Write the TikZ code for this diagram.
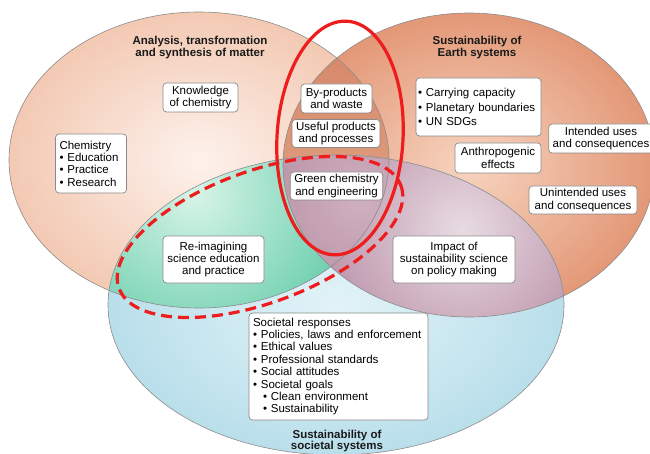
\documentclass[tikz,border=0pt]{standalone}
\usepackage{fontspec}
\setmainfont{Liberation Sans}
% region colours
\definecolor{matterIn}{HTML}{FDF2EC}
\definecolor{matterOut}{HTML}{F3C9B3}
\definecolor{earthIn}{HTML}{F7D4C0}
\definecolor{earthOut}{HTML}{E39877}
\definecolor{socIn}{HTML}{E2F3F8}
\definecolor{socOut}{HTML}{B9DFEB}
\definecolor{lensTop}{HTML}{D5896A}
\definecolor{lensBot}{HTML}{E6A98B}
\definecolor{greenIn}{HTML}{D6F4E8}
\definecolor{greenOut}{HTML}{62CBA8}
\definecolor{mauveIn}{HTML}{E8DBE2}
\definecolor{mauveOut}{HTML}{BA91A8}
\definecolor{tripleIn}{HTML}{CFB0C0}
\definecolor{tripleOut}{HTML}{BC96AA}
\definecolor{rimgray}{HTML}{8C8C8C}
\definecolor{boxgray}{HTML}{8A8A8A}
\definecolor{hilite}{HTML}{EE1C1C}
\definecolor{titleblack}{HTML}{1A1A1A}
\newcommand\nohyph{\hyphenpenalty=10000\relax}
\begin{document}
\begin{tikzpicture}[x=1pt,y=-1pt,
  box/.style={draw=boxgray, fill=white, rounded corners=3.5pt, line width=0.7pt,
    inner xsep=4pt, inner ysep=2pt, align=center,
    font=\fontsize{11.5}{12.4}\selectfont\nohyph},
  listbox/.style={box, align=left},
  heading/.style={font=\fontsize{11.5}{11.5}\selectfont\bfseries, align=center, text=titleblack},
  rim/.style={draw=rimgray, line width=0.6pt},
  redloop/.style={draw=hilite, line width=3.2pt},
]
\useasboundingbox (0,0) rectangle (650,454);

% ---- the three circles of the diagram ----
\shade[inner color=matterIn, outer color=matterOut]
  (199,160) ellipse [x radius=190, y radius=148];
\shade[inner color=earthIn, outer color=earthOut]
  (469,165) ellipse [x radius=186, y radius=152];

% matter and earth overlap
\begin{scope}
  \clip (199,160) ellipse [x radius=190, y radius=148];
  \clip (469,165) ellipse [x radius=186, y radius=152];
  \shade[top color=lensTop, bottom color=lensBot] (260,50) rectangle (410,280);
\end{scope}

\shade[inner color=socIn, outer color=socOut]
  (336,305) ellipse [x radius=228, y radius=150];

% matter and society overlap
\begin{scope}
  \clip (199,160) ellipse [x radius=190, y radius=148];
  \clip (336,305) ellipse [x radius=228, y radius=150];
  \shade[inner color=greenIn, outer color=greenOut] (195,195) circle [radius=175];
\end{scope}

% earth and society overlap
\begin{scope}
  \clip (469,165) ellipse [x radius=186, y radius=152];
  \clip (336,305) ellipse [x radius=228, y radius=150];
  \shade[inner color=mauveIn, outer color=mauveOut] (462,230) circle [radius=150];
\end{scope}

% all three overlap
\begin{scope}
  \clip (199,160) ellipse [x radius=190, y radius=148];
  \clip (469,165) ellipse [x radius=186, y radius=152];
  \clip (336,305) ellipse [x radius=228, y radius=150];
  \shade[inner color=tripleIn, outer color=tripleOut] (360,200) circle [radius=90];
\end{scope}

% outlines
\path[rim] (199,160) ellipse [x radius=190, y radius=148];
\path[rim] (469,165) ellipse [x radius=186, y radius=152];
\path[rim] (336,305) ellipse [x radius=228, y radius=150];

% ---- headings ----
\node[heading] (hMatter) at (200,47.5) {Analysis, transformation\\and synthesis of matter};
\node[heading] (hEarth) at (477,47.5) {Sustainability of\\Earth systems};
\node[heading] (hSoc) at (337,441) {Sustainability of\\societal systems};

% ---- boxes ----
\node[box, minimum width=75pt, minimum height=29pt] (know) at (200.5,97.5)
  {Knowledge\\of chemistry};
\node[listbox, text width=63pt, minimum height=59pt] (chem) at (91,163.5)
  {Chemistry\\• Education\\• Practice\\• Research};
\node[box, minimum width=71pt, minimum height=29pt] (byp) at (336.5,98.5)
  {By-products\\and waste};
\node[box, minimum width=86pt, minimum height=28pt] (useful) at (336,133.5)
  {Useful products\\and processes};
\node[box, minimum width=91pt, minimum height=28pt] (green) at (336.5,186)
  {Green chemistry\\and engineering};
\node[listbox, text width=121pt, inner xsep=2pt, minimum height=58pt,
      font=\fontsize{11.5}{14.5}\selectfont\nohyph] (carry) at (478.5,107)
  {• Carrying capacity\\• Planetary boundaries\\• UN SDGs};
\node[box, minimum width=86pt, minimum height=30pt] (anthro) at (498,158)
  {Anthropogenic\\effects};
\node[box, minimum width=104pt, minimum height=29pt] (intended) at (601,138.5)
  {Intended uses\\and consequences};
\node[box, minimum width=108pt, minimum height=28pt] (unintended) at (583,200)
  {Unintended uses\\and consequences};
\node[box, minimum width=101pt, minimum height=47pt] (reimag) at (213.5,259.5)
  {Re-imagining\\science education\\and practice};
\node[box, minimum width=122pt, minimum height=47pt] (impact) at (454,259.5)
  {Impact of\\sustainability science\\on policy making};
\node[listbox, text width=171pt, minimum height=107pt] (societal) at (338.5,366.5)
  {Societal responses\\
   • Policies, laws and enforcement\\
   • Ethical values\\
   • Professional standards\\
   • Social attitudes\\
   • Societal goals\\
   \hspace*{10pt}• Clean environment\\
   \hspace*{10pt}• Sustainability};

% ---- highlighted groupings ----
\path[redloop, rotate around={-3.4:(340,138)}]
  (340,138) ellipse [x radius=63, y radius=117];
\path[redloop, dash pattern=on 11pt off 6pt, rotate around={20:(260,237)}]
  (260,237) ellipse [x radius=150, y radius=66];
\end{tikzpicture}
\end{document}
